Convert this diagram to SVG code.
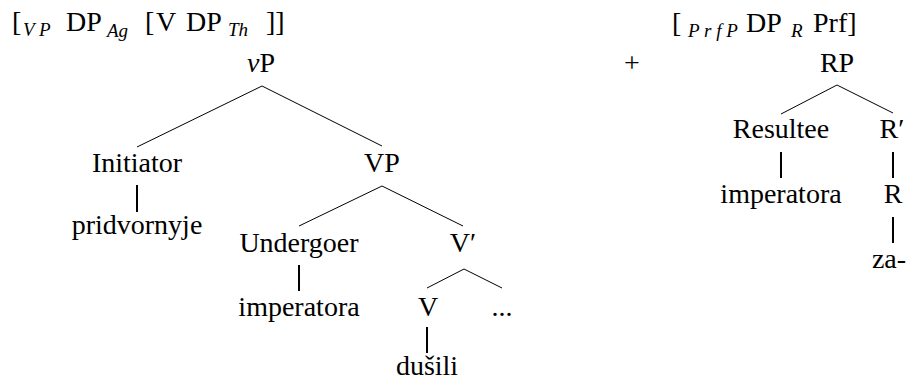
<svg xmlns="http://www.w3.org/2000/svg" width="913" height="382" viewBox="0 0 913 382">
  <style>
    text { font-family: "Liberation Serif", "LiberationSerif", "DejaVu Serif", "Noto Serif", "Nimbus Roman", "FreeSerif", Times, serif; font-size: 28px; fill: #000; }
    .node { text-anchor: middle; }
    .sub { font-size: 19px; font-style: italic; }
    .branch { stroke: #000; stroke-width: 1; fill: none; }
    .stem { stroke: #000; stroke-width: 2; fill: none; }
  </style>

  <!-- bracketed strings above each tree -->
  <g id="formula-vp">
    <text x="12" y="31">[</text>
    <text class="sub" x="23" y="36">V P</text>
    <text x="66" y="31">DP</text>
    <text class="sub" x="107" y="37">Ag</text>
    <text x="145" y="31">[</text>
    <text x="156" y="31">V</text>
    <text x="186" y="31">DP</text>
    <text class="sub" x="228" y="36">Th</text>
    <text x="266" y="31">]]</text>
  </g>
  <g id="formula-prfp">
    <text x="672" y="32">[</text>
    <text class="sub" x="688" y="37">P r f P</text>
    <text x="746" y="32">DP</text>
    <text class="sub" x="791" y="37">R</text>
    <text x="813" y="32">Prf]</text>
  </g>
  <g id="plus">
    <text class="node" x="632" y="72">+</text>
  </g>

  <!-- connectors -->
  <g id="connectors">
    <path class="branch" d="M262 86 L137 147 M262 86 L382 146"/>
    <path class="stem" d="M137 185 V212"/>
    <path class="branch" d="M382 186 L299 226 M382 186 L463 226"/>
    <path class="stem" d="M299 265 V291"/>
    <path class="branch" d="M464 269 L427 288 M464 269 L502 288"/>
    <path class="stem" d="M427 327 V353"/>
    <path class="branch" d="M837 85 L781 114 M837 85 L893 113"/>
    <path class="stem" d="M781 152 V178 M893 152 V178 M893 217 V243"/>
  </g>

  <!-- left tree -->
  <g id="vP"><text class="node" x="261" y="72"><tspan font-style="italic">v</tspan>P</text></g>
  <g id="Initiator"><text class="node" x="137" y="172">Initiator</text></g>
  <g id="pridvornyje"><text class="node" x="137" y="234">pridvornyje</text></g>
  <g id="VP"><text class="node" x="382" y="172">VP</text></g>
  <g id="Undergoer"><text class="node" x="299" y="252">Undergoer</text></g>
  <g id="imperatora-1"><text class="node" x="299" y="316">imperatora</text></g>
  <g id="Vbar"><text class="node" x="463" y="252">V′</text></g>
  <g id="V"><text class="node" x="428" y="316">V</text></g>
  <g id="dots"><text class="node" x="502" y="316">...</text></g>
  <g id="dusili"><text class="node" x="427" y="375">dušili</text></g>

  <!-- right tree -->
  <g id="RP"><text class="node" x="837" y="72">RP</text></g>
  <g id="Resultee"><text class="node" x="781" y="138">Resultee</text></g>
  <g id="imperatora-2"><text class="node" x="781" y="203">imperatora</text></g>
  <g id="Rbar"><text class="node" x="892" y="138">R′</text></g>
  <g id="R"><text class="node" x="893" y="203">R</text></g>
  <g id="za"><text class="node" x="889" y="268">za-</text></g>
</svg>
